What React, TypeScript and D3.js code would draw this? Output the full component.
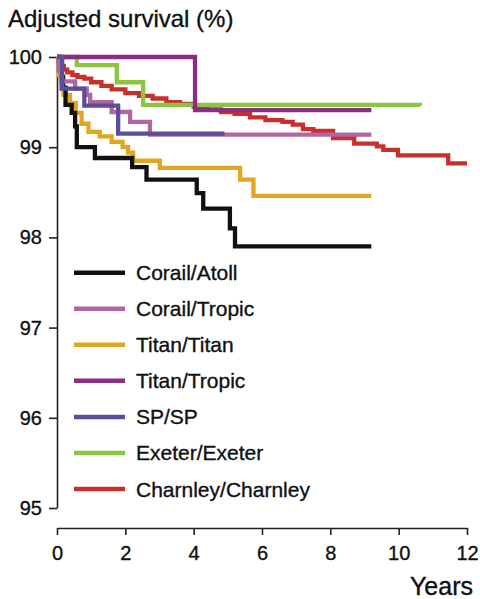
import React, { useEffect, useRef } from "react";
import * as d3 from "d3";

// ---- data (years, adjusted survival %) ----
const seriesNames = [
  "Corail/Atoll",
  "Corail/Tropic",
  "Titan/Titan",
  "Titan/Tropic",
  "SP/SP",
  "Exeter/Exeter",
  "Charnley/Charnley",
];
const seriesColors = ["#111111", "#b0669e", "#e2a722", "#8c2d85", "#5b4f9b", "#8cc540", "#c9302c"];

const atollT = [0, 0.06, 0.12, 0.18, 0.25, 0.43, 0.53, 0.58, 1.11, 2.2, 2.62, 4.09, 4.28, 5.06, 5.21, 9.2];
const atollS = [100, 99.88, 99.78, 99.66, 99.47, 99.38, 99.23, 99.0, 98.88, 98.78, 98.64, 98.49, 98.32, 98.1, 97.9, 97.9];

const corTropT = [0, 0.05, 0.12, 0.53, 0.87, 0.97, 1.6, 2.14, 2.72, 9.2];
const corTropS = [100, 99.85, 99.73, 99.65, 99.58, 99.5, 99.39, 99.28, 99.14, 99.14];

const titanT = [0, 0.05, 0.12, 0.19, 0.38, 0.55, 0.72, 0.92, 1.25, 1.6, 1.92, 2.08, 2.23, 3.01, 5.36, 5.75, 9.2];
const titanS = [100, 99.8, 99.65, 99.58, 99.49, 99.38, 99.26, 99.17, 99.12, 99.06, 99.0, 98.94, 98.85, 98.77, 98.64, 98.46, 98.46];

const titTropT = [0, 4.04, 9.2];
const titTropS = [100, 99.41, 99.41];

const spT = [0, 0.15, 0.8, 1.79, 4.9];
const spS = [100, 99.65, 99.46, 99.15, 99.15];

const exeterT = [0, 0.58, 1.75, 2.52, 10.62];
const exeterS = [100, 99.91, 99.72, 99.47, 99.46];

const charnT = [0, 0.05, 0.1, 0.2, 0.3, 0.45, 0.6, 0.8, 1.0, 1.3, 1.6, 2.0, 2.4, 2.8, 3.2, 3.6, 4.0, 4.4, 4.8, 5.2, 5.65, 6.1, 6.6, 6.9, 7.2, 7.5, 8.08, 8.7, 9.36, 9.55, 9.98, 11.45, 12.0];
const charnS = [100, 99.95, 99.9, 99.86, 99.83, 99.8, 99.78, 99.76, 99.72, 99.68, 99.64, 99.6, 99.57, 99.54, 99.5, 99.48, 99.45, 99.42, 99.39, 99.37, 99.33, 99.3, 99.28, 99.25, 99.2, 99.18, 99.1, 99.04, 99.01, 98.97, 98.91, 98.82, 98.82];

const seriesT = [atollT, corTropT, titanT, titTropT, spT, exeterT, charnT];
const seriesS = [atollS, corTropS, titanS, titTropS, spS, exeterS, charnS];

const xTicks = [0, 2, 4, 6, 8, 10, 12];
const yTicks = [95, 96, 97, 98, 99, 100];

const W = 480;
const H = 599;
const FONT = "'Liberation Sans', Arial, Helvetica, sans-serif";
const TXT = "#111";

export default function App() {
  const ref = useRef<SVGSVGElement | null>(null);

  useEffect(() => {
    const svg = d3.select(ref.current);
    svg.selectAll("*").remove();

    const x = d3.scaleLinear().domain([0, 12]).range([57, 467]);
    const y = d3.scaleLinear().domain([95, 100]).range([508, 57]);

    const styleText = (sel: any, size: number) =>
      sel
        .attr("font-family", FONT)
        .attr("font-size", size)
        .attr("fill", TXT)
        .attr("stroke", TXT)
        .attr("stroke-width", 0.35);

    // y axis
    const ya = svg
      .append("g")
      .attr("transform", "translate(57,0)")
      .call(d3.axisLeft(y).tickValues(yTicks).tickSize(8).tickSizeOuter(0).tickPadding(7).tickFormat(d3.format("d")));
    ya.select(".domain").attr("stroke", "#222").attr("stroke-width", 1.6);
    ya.selectAll(".tick line").attr("stroke", "#222").attr("stroke-width", 1.6);
    styleText(ya.selectAll(".tick text"), 20);

    // x axis
    const xa = svg
      .append("g")
      .attr("transform", "translate(0,528)")
      .call(d3.axisBottom(x).tickValues(xTicks).tickSize(7).tickSizeOuter(0).tickPadding(11).tickFormat(d3.format("d")));
    xa.select(".domain").attr("stroke", "#222").attr("stroke-width", 1.6);
    xa.selectAll(".tick line").attr("stroke", "#222").attr("stroke-width", 1.6);
    styleText(xa.selectAll(".tick text"), 20);

    // lines
    const line = d3
      .line<[number, number]>()
      .x((d) => x(d[0]))
      .y((d) => y(d[1]))
      .curve(d3.curveStepAfter);

    const order = [6, 5, 3, 2, 0, 1, 4];
    order.forEach((i) => {
      const pts: [number, number][] = seriesT[i].map((t, k) => [t, seriesS[i][k]]);
      svg
        .append("path")
        .attr("d", line(pts) || "")
        .attr("fill", "none")
        .attr("stroke", seriesColors[i])
        .attr("stroke-width", 4.3)
        .attr("stroke-linejoin", "miter")
        .attr("stroke-linecap", "butt");
    });

    // legend
    const lg = svg.append("g");
    seriesNames.forEach((name, i) => {
      const yy = 272.7 + i * 36.05;
      lg.append("line")
        .attr("x1", 74)
        .attr("x2", 125)
        .attr("y1", yy)
        .attr("y2", yy)
        .attr("stroke", seriesColors[i])
        .attr("stroke-width", 4.5);
      styleText(lg.append("text").attr("x", 136).attr("y", yy + 7.5), 21).text(name);
    });

    styleText(svg.append("text").attr("x", 8).attr("y", 27), 24).text("Adjusted survival (%)");

    styleText(svg.append("text").attr("x", 473).attr("y", 595).attr("text-anchor", "end"), 25).text("Years");
  }, []);

  return (
    <div style={{ position: "absolute", left: 0, top: 0 }}>
      <svg ref={ref} width={W} height={H} style={{ display: "block", background: "#fff" }} />
    </div>
  );
}
